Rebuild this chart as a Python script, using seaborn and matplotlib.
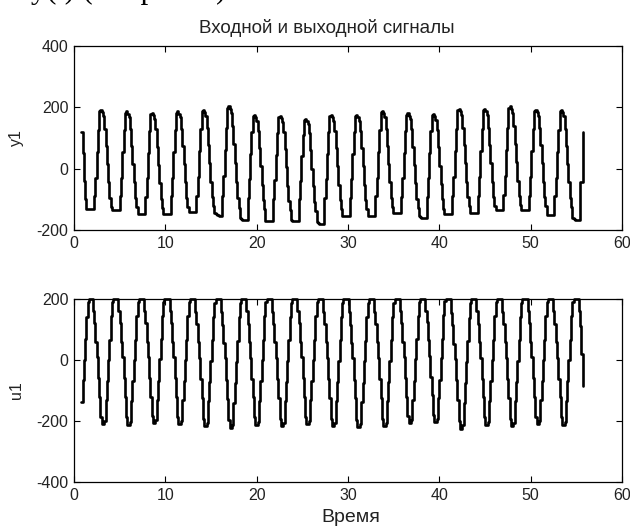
import numpy as np
import pandas as pd
import matplotlib
matplotlib.use("Agg")
import matplotlib.pyplot as plt
import seaborn as sns
from matplotlib import font_manager

# ---------------- data ----------------
T0 = 0.80          # first sample time
DT = 0.14          # sample period

# output signal y1 (one row per period, starting with the flat trough)
y1_rows = [
    [120, 50, -40, -100],
    [-131, -131, -131, -131, -131, -131, -90, -30, 55, 125, 187, 192, 184, 172, 130, 75, 15, -45, -95, -125],
    [-136, -136, -136, -136, -136, -136, -90, -30, 55, 125, 182, 187, 179, 167, 130, 75, 15, -45, -95, -125],
    [-147, -147, -147, -147, -147, -147, -92, -32, 52, 122, 178, 183, 175, 163, 128, 72, 12, -48, -98, -128],
    [-147, -147, -147, -147, -147, -147, -90, -30, 55, 125, 182, 187, 179, 167, 130, 75, 15, -45, -95, -125],
    [-142, -142, -142, -142, -142, -142, -90, -28, 58, 128, 187, 192, 184, 172, 132, 78, 18, -42, -92, -122],
    [-145, -148, -150, -152, -155, -155, -88, -25, 62, 132, 198, 203, 195, 182, 138, 82, 20, -42, -95, -128],
    [-160, -163, -166, -166, -166, -166, -95, -35, 48, 118, 171, 176, 168, 156, 122, 68, 8, -52, -102, -132],
    [-172, -172, -172, -172, -172, -172, -98, -38, 45, 115, 168, 173, 165, 153, 120, 65, 5, -55, -105, -135],
    [-168, -170, -172, -172, -172, -172, -100, -40, 42, 110, 158, 163, 156, 145, 115, 60, 0, -58, -108, -138],
    [-175, -178, -180, -180, -180, -180, -95, -35, 48, 118, 171, 176, 168, 156, 122, 68, 8, -52, -102, -132],
    [-153, -153, -153, -153, -153, -153, -95, -35, 48, 118, 171, 176, 168, 156, 122, 68, 8, -52, -102, -130],
    [-155, -155, -155, -155, -155, -155, -90, -30, 55, 125, 184, 189, 181, 169, 130, 75, 15, -45, -95, -125],
    [-144, -144, -144, -144, -144, -144, -92, -32, 52, 122, 176, 181, 173, 161, 128, 72, 12, -48, -98, -128],
    [-155, -158, -161, -161, -161, -161, -92, -32, 52, 122, 174, 179, 171, 159, 126, 70, 10, -50, -100, -130],
    [-148, -148, -148, -148, -148, -148, -88, -28, 58, 128, 190, 195, 187, 175, 134, 78, 18, -42, -92, -122],
    [-144, -144, -144, -144, -144, -144, -88, -28, 58, 128, 190, 195, 187, 175, 134, 78, 18, -42, -92, -122],
    [-134, -134, -134, -134, -134, -134, -85, -25, 62, 132, 198, 203, 195, 182, 138, 82, 22, -40, -90, -120],
    [-134, -134, -134, -134, -134, -134, -88, -28, 58, 128, 187, 192, 184, 172, 132, 78, 18, -42, -92, -122],
    [-150, -150, -150, -150, -150, -150, -90, -30, 55, 125, 187, 192, 184, 172, 130, 75, 15, -45, -95, -125],
    [-160, -163, -166, -166, -166, -166, -45, -45, 121],
]

# control signal u1 (one row per period, starting with the saturated top)
u1_rows = [
    [-137, -66, 0, 70, 140, 190],
    [200, 200, 200, 160, 120, 60, 10, -60, -120, -186, -210, -210, -200, -131, -70, 0, 66, 143, 190, 200],
    [200, 200, 200, 160, 120, 60, 10, -60, -122, -188, -213, -213, -203, -133, -70, 0, 66, 143, 190, 200],
    [200, 200, 200, 160, 120, 60, 10, -60, -120, -185, -208, -208, -198, -130, -68, 2, 68, 145, 190, 200],
    [200, 200, 200, 160, 120, 60, 10, -60, -120, -186, -210, -210, -200, -131, -70, 0, 66, 143, 190, 200],
    [200, 200, 200, 158, 118, 58, 8, -62, -124, -192, -216, -216, -206, -135, -72, -2, 64, 141, 188, 200],
    [200, 200, 200, 156, 115, 55, 5, -65, -128, -198, -224, -224, -212, -140, -75, -5, 62, 140, 188, 200],
    [200, 200, 200, 160, 118, 58, 8, -62, -122, -188, -213, -213, -203, -133, -70, 0, 66, 143, 190, 200],
    [200, 200, 200, 158, 118, 58, 8, -62, -124, -192, -216, -216, -206, -135, -72, -2, 64, 141, 188, 200],
    [200, 200, 200, 160, 120, 60, 10, -60, -120, -186, -210, -210, -200, -131, -70, 0, 66, 143, 190, 200],
    [200, 200, 200, 158, 118, 58, 8, -62, -124, -192, -217, -217, -207, -136, -72, -2, 64, 141, 188, 200],
    [200, 200, 200, 156, 115, 55, 5, -65, -126, -196, -221, -221, -210, -138, -74, -4, 63, 140, 188, 200],
    [200, 200, 200, 158, 118, 58, 8, -62, -124, -192, -216, -216, -206, -135, -72, -2, 64, 141, 188, 200],
    [200, 200, 200, 160, 120, 60, 10, -60, -120, -185, -208, -208, -198, -130, -68, 2, 68, 145, 190, 200],
    [200, 200, 200, 162, 124, 64, 14, -56, -116, -180, -202, -202, -192, -126, -65, 5, 70, 147, 192, 200],
    [200, 200, 200, 155, 114, 54, 4, -66, -130, -200, -226, -226, -214, -142, -76, -6, 62, 139, 187, 200],
    [200, 200, 200, 160, 118, 58, 8, -62, -122, -188, -213, -213, -203, -133, -70, 0, 66, 143, 190, 200],
    [200, 200, 200, 158, 118, 58, 8, -62, -124, -192, -216, -216, -206, -135, -72, -2, 64, 141, 188, 200],
    [200, 200, 200, 160, 120, 60, 10, -60, -120, -186, -210, -210, -200, -131, -70, 0, 66, 143, 190, 200],
    [200, 200, 200, 160, 118, 58, 8, -62, -122, -188, -213, -213, -203, -133, -70, 0, 66, 143, 190, 200],
    [200, 200, 200, 160, 110, 20, -85],
]

x_ticks = [0, 10, 20, 30, 40, 50, 60]
y1_ticks = [-200, 0, 200, 400]
u1_ticks = [-400, -200, 0, 200]

title_text = "Входной и выходной сигналы"
xlabel_text = "Время"
y1_label = "y1"
u1_label = "u1"
top_cut_text = "у(t) (см. рис. 2)"

# ---------------- build frames ----------------
y1 = [v for row in y1_rows for v in row]
u1 = [v for row in u1_rows for v in row]
time_y = T0 + DT * np.arange(len(y1))
time_u = T0 + DT * np.arange(len(u1))
df_y = pd.DataFrame({"t": time_y, "v": y1})
df_u = pd.DataFrame({"t": time_u, "v": u1})

# ---------------- style ----------------
sns.set_theme(style="white")
avail = {f.name for f in font_manager.fontManager.ttflist}
fam = "Liberation Sans Narrow" if "Liberation Sans Narrow" in avail else "Liberation Sans"
plt.rcParams["font.family"] = [fam, "DejaVu Sans"]
plt.rcParams["axes.edgecolor"] = "black"
plt.rcParams["axes.linewidth"] = 0.9
text_color = "#222222"

W, H = 630, 527
fig = plt.figure(figsize=(W / 100, H / 100), dpi=100)
fig.patch.set_facecolor("white")


def frac_box(left, top, right, bottom):
    return [left / W, 1 - bottom / H, (right - left) / W, (bottom - top) / H]


ax1 = fig.add_axes(frac_box(74, 46, 622, 230))
ax2 = fig.add_axes(frac_box(74, 299, 622, 482))

for ax, df, yt, lab in [(ax1, df_y, y1_ticks, y1_label), (ax2, df_u, u1_ticks, u1_label)]:
    sns.lineplot(data=df, x="t", y="v", ax=ax, color="black", linewidth=1.9,
                 drawstyle="steps-post", estimator=None, sort=False, clip_on=False)
    ax.set_xlim(0, 60)
    ax.set_ylim(yt[0], yt[-1])
    ax.set_xticks(x_ticks)
    ax.set_yticks(yt)
    ax.set_xticklabels([str(v) for v in x_ticks])
    ax.set_yticklabels([str(v) for v in yt])
    ax.tick_params(direction="in", length=4, width=0.8, top=True, right=True,
                   bottom=True, left=True, labelsize=11.5, colors="black",
                   labelcolor=text_color, pad=4)
    ax.set_xlabel("")
    ax.set_ylabel(lab, fontsize=11.5, color=text_color, labelpad=9)
    for s in ax.spines.values():
        s.set_visible(True)
        s.set_color("black")
    ax.set_facecolor("white")
    ax.grid(False)

fig.text(327 / W, 1 - 28 / H, title_text, ha="center", va="center",
         fontsize=13.5, color=text_color)
fig.text(351 / W, 1 - 518 / H, xlabel_text, ha="center", va="center",
         fontsize=14, color=text_color)
# partially visible line of document text cut by the top edge
fig.text(31 / W, 1 - 5 / H, top_cut_text, ha="left", va="bottom",
         fontsize=22, color="black", family=["Liberation Serif", "DejaVu Serif"])

fig.savefig("out.png", dpi=100, facecolor="white")
